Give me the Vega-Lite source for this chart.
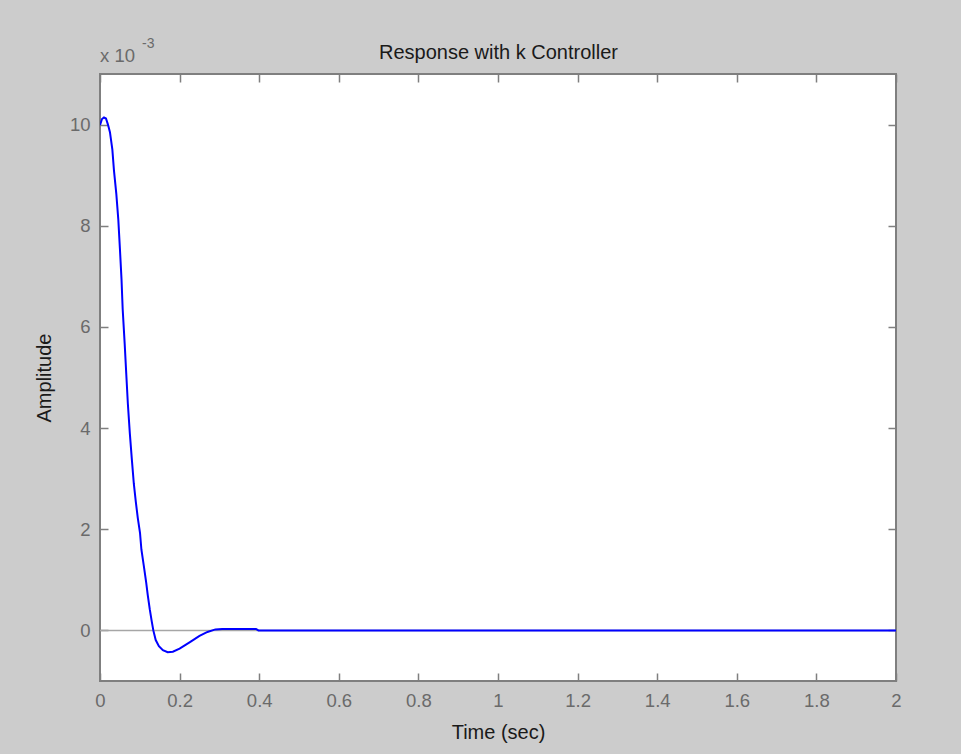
{
  "$schema": "https://vega.github.io/schema/vega-lite/v6.json",
  "width": 796,
  "height": 607,
  "autosize": {"type": "none"},
  "padding": {"left": 100, "top": 74, "right": 65, "bottom": 73},
  "background": "#cccccc",
  "data": {"values": [{}]},
  "config": {
    "view": {"stroke": "#7f7f7f", "strokeWidth": 2, "fill": "white"},
    "font": "Liberation Sans",
    "axis": {
      "domain": false,
      "grid": false,
      "labelFlush": false,
      "tickColor": "#7f7f7f",
      "tickWidth": 1.5,
      "tickSize": -8,
      "labelFont": "Liberation Sans",
      "labelFontSize": 18.5,
      "labelColor": "#6a6a6a",
      "titleFont": "Liberation Sans",
      "titleFontSize": 20,
      "titleFontWeight": "normal",
      "titleColor": "#1a1a1a"
    }
  },
  "datasets": {
    "resp": [
      {"t": 0.0, "v": 9.99},
      {"t": 0.005, "v": 10.11},
      {"t": 0.010, "v": 10.14},
      {"t": 0.015, "v": 10.12},
      {"t": 0.020, "v": 10.0},
      {"t": 0.025, "v": 9.85},
      {"t": 0.031, "v": 9.51},
      {"t": 0.035, "v": 9.1},
      {"t": 0.041, "v": 8.63},
      {"t": 0.046, "v": 8.12},
      {"t": 0.050, "v": 7.55},
      {"t": 0.054, "v": 6.95},
      {"t": 0.057, "v": 6.35},
      {"t": 0.062, "v": 5.67},
      {"t": 0.066, "v": 5.07},
      {"t": 0.070, "v": 4.48},
      {"t": 0.075, "v": 3.89},
      {"t": 0.080, "v": 3.38},
      {"t": 0.085, "v": 2.9},
      {"t": 0.090, "v": 2.54},
      {"t": 0.095, "v": 2.22},
      {"t": 0.1005, "v": 1.93},
      {"t": 0.104, "v": 1.6},
      {"t": 0.110, "v": 1.28},
      {"t": 0.116, "v": 0.95},
      {"t": 0.120, "v": 0.7},
      {"t": 0.125, "v": 0.42},
      {"t": 0.130, "v": 0.18},
      {"t": 0.134, "v": 0.0},
      {"t": 0.140, "v": -0.19},
      {"t": 0.148, "v": -0.31},
      {"t": 0.158, "v": -0.39},
      {"t": 0.170, "v": -0.43},
      {"t": 0.183, "v": -0.42},
      {"t": 0.200, "v": -0.36},
      {"t": 0.226, "v": -0.23},
      {"t": 0.250, "v": -0.11},
      {"t": 0.270, "v": -0.03},
      {"t": 0.290, "v": 0.02},
      {"t": 0.307, "v": 0.03},
      {"t": 0.350, "v": 0.03},
      {"t": 0.392, "v": 0.03},
      {"t": 0.398, "v": 0.0},
      {"t": 1.0, "v": 0.0},
      {"t": 2.0, "v": 0.0}
    ]
  },
  "layer": [
    {
      "mark": {"type": "rule", "color": "#a6a6a6", "strokeWidth": 1.5},
      "encoding": {
        "y": {"datum": 0, "type": "quantitative", "scale": {"domain": [-1, 11], "nice": false, "zero": false}, "axis": null}
      }
    },
    {
      "data": {"name": "resp"},
      "mark": {"type": "line", "color": "#0000ff", "strokeWidth": 2, "clip": true},
      "encoding": {
        "x": {
          "field": "t",
          "type": "quantitative",
          "scale": {"domain": [0, 2], "nice": false, "zero": false},
          "axis": {
            "orient": "bottom",
            "values": [0, 0.2, 0.4, 0.6, 0.8, 1, 1.2, 1.4, 1.6, 1.8, 2],
            "format": "~f",
            "title": "Time (sec)",
            "labelPadding": 18,
            "titlePadding": 13
          }
        },
        "y": {
          "field": "v",
          "type": "quantitative",
          "scale": {"domain": [-1, 11], "nice": false, "zero": false},
          "axis": {
            "orient": "left",
            "values": [0, 2, 4, 6, 8, 10],
            "format": "~f",
            "title": "Amplitude",
            "labelPadding": 18,
            "titlePadding": 14.5
          }
        }
      }
    },
    {
      "mark": {"type": "text", "text": "x 10", "align": "left", "baseline": "alphabetic", "fontSize": 18.5, "color": "#6a6a6a", "font": "Liberation Sans", "dy": -12},
      "encoding": {
        "x": {
          "datum": 0,
          "type": "quantitative",
          "scale": {"domain": [0, 2], "nice": false, "zero": false},
          "axis": {"orient": "top", "labels": false, "title": "Response with k Controller", "titleBaseline": "alphabetic", "titlePadding": 15, "values": [0, 0.2, 0.4, 0.6, 0.8, 1, 1.2, 1.4, 1.6, 1.8, 2]}
        },
        "y": {
          "datum": 11,
          "type": "quantitative",
          "scale": {"domain": [-1, 11], "nice": false, "zero": false},
          "axis": {"orient": "right", "labels": false, "title": null, "values": [0, 2, 4, 6, 8, 10]}
        }
      }
    },
    {
      "mark": {"type": "text", "text": "-3", "align": "left", "baseline": "alphabetic", "fontSize": 14, "color": "#6a6a6a", "font": "Liberation Sans", "dx": 42, "dy": -26},
      "encoding": {
        "x": {"datum": 0, "type": "quantitative", "axis": null},
        "y": {"datum": 11, "type": "quantitative", "axis": null}
      }
    }
  ],
  "resolve": {"axis": {"x": "independent", "y": "independent"}}
}
